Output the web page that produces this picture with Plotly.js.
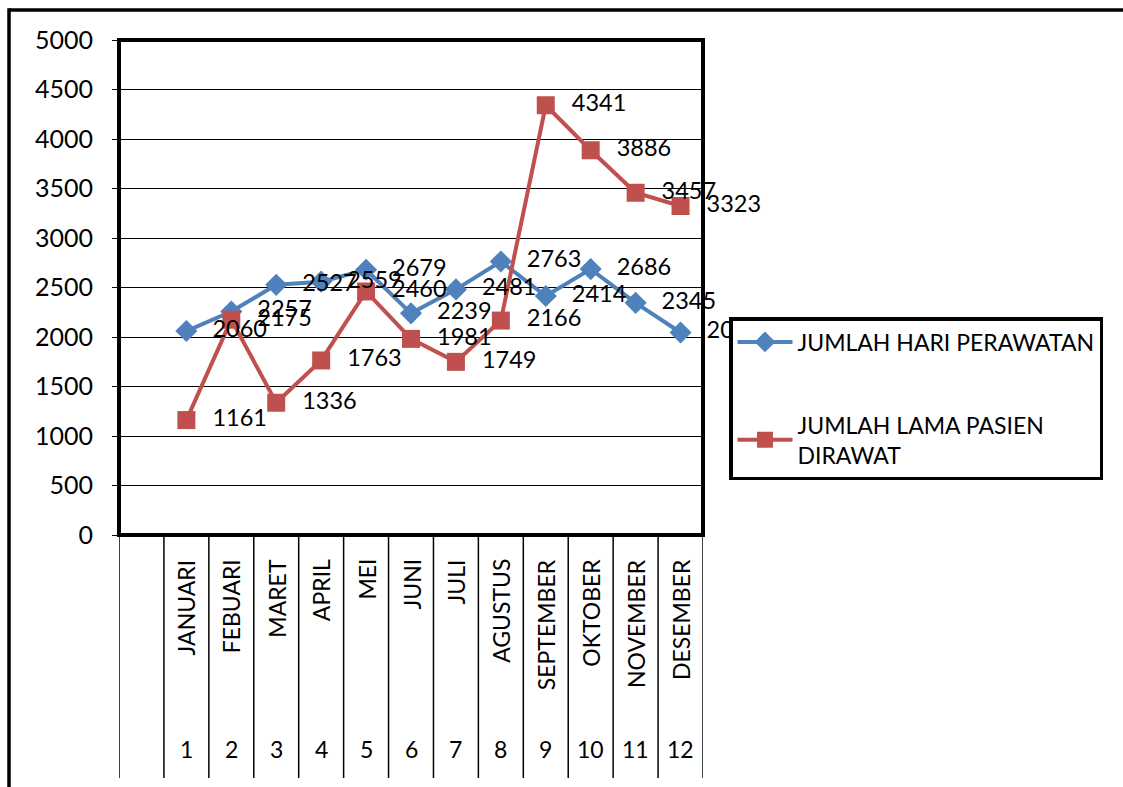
<!DOCTYPE html>
<html>
<head>
<meta charset="utf-8">
<script src="https://cdn.plot.ly/plotly-3.0.1.min.js"></script>
<style>html,body{margin:0;padding:0;background:#fff;}#chart{width:1123px;height:787px;}</style>
</head>
<body>
<div id="chart"></div>
<script>
const months = ["JANUARI","FEBUARI","MARET","APRIL","MEI","JUNI","JULI","AGUSTUS","SEPTEMBER","OKTOBER","NOVEMBER","DESEMBER"];
const monthNumbers = ["1","2","3","4","5","6","7","8","9","10","11","12"];
const hariPerawatan = [2060, 2257, 2527, 2559, 2679, 2239, 2481, 2763, 2414, 2686, 2345, 2045];
const lamaPasien = [1161, 2175, 1336, 1763, 2460, 1981, 1749, 2166, 4341, 3886, 3457, 3323];
const seriesNames = ["JUMLAH HARI PERAWATAN", "JUMLAH LAMA PASIEN<br>DIRAWAT"];
const seriesColors = ["#4F81BD", "#C0504D"];

const FONT = "Lato, 'Open Sans', sans-serif";
const xpos = monthNumbers.map(Number);

function lineTrace(y, i, symbol, size, group) {
  return {
    x: xpos, y: y, name: seriesNames[i], type: "scatter", mode: "lines+markers",
    cliponaxis: false,
    line: {color: seriesColors[i], width: 4},
    marker: {symbol: symbol, size: size, color: seriesColors[i]},
    legendgroup: group
  };
}
// data labels: text placed right of each point (invisible wide marker gives Excel-like offset)
function labelTrace(y) {
  return {
    x: xpos, y: y, type: "scatter", mode: "markers+text", showlegend: false, hoverinfo: "skip",
    text: y.map(String), textposition: "middle right", cliponaxis: false,
    textfont: {family: FONT, size: 23.5, color: "#000"},
    marker: {size: 40, opacity: 0, color: "#fff"}
  };
}

const traces = [
  lineTrace(hariPerawatan, 0, "diamond", 17, "a"),
  lineTrace(lamaPasien, 1, "square", 18, "b"),
  labelTrace(hariPerawatan),
  labelTrace(lamaPasien)
];

const L = 119, R = 703, T = 40, B = 535, W = 1123, H = 787;
const pw = R - L, ph = B - T;
const px2x = p => (p - L) / pw;
const px2y = p => (B - p) / ph;

const shapes = [];
for (let k = 0; k <= 13; k++) {
  shapes.push({type: "line", xref: "x", yref: "paper", x0: k - 0.5, x1: k - 0.5, y0: 0, y1: px2y(778), line: {color: "#000", width: 1.5}});
}
shapes.push({type: "rect", xref: "paper", yref: "paper", x0: 0, x1: 1, y0: 0, y1: 1, line: {color: "#000", width: 4}});
shapes.push({type: "line", xref: "paper", yref: "paper", x0: px2x(9), x1: px2x(1130), y0: px2y(10), y1: px2y(10), line: {color: "#000", width: 3.5}});
shapes.push({type: "line", xref: "paper", yref: "paper", x0: px2x(9), x1: px2x(9), y0: px2y(8.3), y1: px2y(800), line: {color: "#000", width: 3.5}});

const annotations = [];
months.forEach((m, i) => {
  annotations.push({xref: "x", yref: "paper", x: xpos[i], y: px2y(557), text: m, showarrow: false,
    textangle: -90, yanchor: "top", xanchor: "center", font: {family: FONT, size: 23, color: "#000"}});
  annotations.push({xref: "x", yref: "paper", x: xpos[i], y: px2y(749), text: monthNumbers[i], showarrow: false,
    yanchor: "middle", xanchor: "center", font: {family: FONT, size: 23, color: "#000"}});
});

const layout = {
  width: W, height: H,
  margin: {l: L, r: W - R, t: T, b: H - B, pad: 0},
  paper_bgcolor: "#fff", plot_bgcolor: "#fff",
  showlegend: true,
  xaxis: {range: [-0.5, 12.5], showgrid: false, zeroline: false, showticklabels: false, ticks: "", showline: false, fixedrange: true},
  yaxis: {range: [0, 5000], dtick: 500, tick0: 0, showgrid: true, gridcolor: "#000", gridwidth: 1, zeroline: false,
    ticks: "outside", ticklen: 6, tickcolor: "#000", tickwidth: 1, ticklabelstandoff: 14,
    tickfont: {family: FONT, size: 25, color: "#000"}, showline: false},
  legend: {x: px2x(729), y: px2y(317), xanchor: "left", yanchor: "top", bgcolor: "#fff", bordercolor: "#000", borderwidth: 3.5,
    font: {family: FONT, size: 23, color: "#000"}, tracegroupgap: 50, traceorder: "grouped", itemwidth: 55},
  shapes: shapes,
  annotations: annotations
};

Plotly.newPlot("chart", traces, layout, {displayModeBar: false, staticPlot: true});
</script>
</body>
</html>
